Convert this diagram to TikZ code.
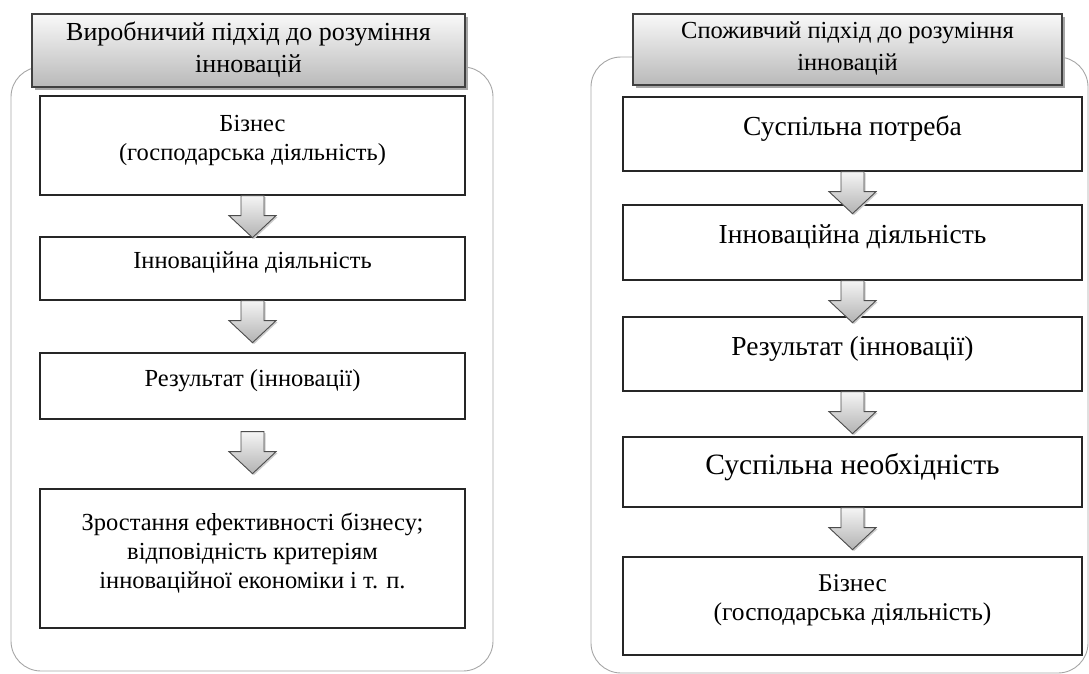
\documentclass[tikz,border=0pt]{standalone}
\usepackage{fontspec}
\setmainfont{Liberation Serif}
\usetikzlibrary{calc,shadows}

% block arrow hanging below box #2 and pointing at box #3
\newcommand{\FlowArrow}[3][0pt]{%
  \path[ArrowStyle] let \p1 = (#2.south), \p2 = (#3.north) in
    (\x1-11.5pt, \y1-#1) -- (\x1+11.5pt, \y1-#1) -- (\x1+11.5pt, \y1-#1-20pt)
    -- (\x1+23.5pt, \y1-#1-20pt) -- (\x2, \y1-#1-42pt) -- (\x1-23.5pt, \y1-#1-20pt)
    -- (\x1-11.5pt, \y1-#1-20pt) -- cycle;
}

\begin{document}
\begin{tikzpicture}[x=1pt, y=-1pt]
\useasboundingbox (0,0) rectangle (1089,674);

\tikzset{FrameStyle/.style = {draw=gray!70, line width=0.9pt, rounded corners=30pt} }

\draw[FrameStyle] (11,67) rectangle (493,671);
\draw[FrameStyle] (591,57) rectangle (1088,673);


\tikzset{HeadStyle/.style = {
 draw = black!75,
 line width = 1.5pt,
 top color = gray!5,
 bottom color = gray!55,
 align = center,
 inner sep = 0pt,
 text depth = 6pt,
 drop shadow = {shadow xshift=3pt, shadow yshift=-3pt, fill=gray!70, opacity=1}} }

\node[HeadStyle, minimum width=433pt, minimum height=73pt, font=\fontsize{26pt}{32pt}\selectfont] (HL) at (248.5,50.5) {Виробничий підхід до розуміння\\інновацій};
\node[HeadStyle, minimum width=429pt, minimum height=71pt, font=\fontsize{24.5pt}{32pt}\selectfont] (HR) at (847.5,49.5) {Споживчий підхід до розуміння\\інновацій};


\tikzset{BoxStyle/.style = {
 draw = black!85,
 line width = 1.3pt,
 fill = white,
 align = center,
 inner sep = 0pt,
 text depth = 16pt,
 drop shadow = {shadow xshift=1pt, shadow yshift=-1pt, fill=gray!50, opacity=1}},
 LeftBox/.style = {BoxStyle, minimum width=425pt, font=\fontsize{24.5pt}{29pt}\selectfont},
 RightBox/.style = {BoxStyle, minimum width=459pt, font=\fontsize{27.5pt}{29pt}\selectfont} }

\node[LeftBox, minimum height=99pt] (L1) at (252.5,145.5) {Бізнес\\(господарська діяльність)};
\node[LeftBox, minimum height=63pt] (L2) at (252.5,268.5) {Інноваційна діяльність};
\node[LeftBox, minimum height=66pt] (L3) at (252.5,386) {Результат (інновації)};
\node[LeftBox, minimum height=139pt] (L4) at (252.5,558.5) {Зростання ефективності бізнесу;\\відповідність критеріям\\інноваційної економіки і т. п.};

\node[RightBox, minimum height=74pt] (R1) at (852.5,134) {Суспільна потреба};
\node[RightBox, minimum height=75pt] (R2) at (852.5,242.5) {Інноваційна діяльність};
\node[RightBox, minimum height=74pt] (R3) at (852.5,354) {Результат (інновації)};
\node[RightBox, minimum height=70pt, font=\fontsize{29.5pt}{31pt}\selectfont] (R4) at (852.5,472) {Суспільна необхідність};
\node[RightBox, minimum height=98pt, font=\fontsize{25.5pt}{29pt}\selectfont] (R5) at (852.5,606) {Бізнес\\(господарська діяльність)};


\tikzset{ArrowStyle/.style = {
 draw = black!70,
 line width = 0.9pt,
 top color = gray!8,
 bottom color = gray!60,
 drop shadow = {shadow xshift=1.5pt, shadow yshift=-1.5pt, fill=gray!40, opacity=1}} }

\FlowArrow{L1}{L2}
\FlowArrow{L2}{L3}
\FlowArrow[12pt]{L3}{L4}

\FlowArrow{R1}{R2}
\FlowArrow{R2}{R3}
\FlowArrow{R3}{R4}
\FlowArrow{R4}{R5}

\end{tikzpicture}
\end{document}
